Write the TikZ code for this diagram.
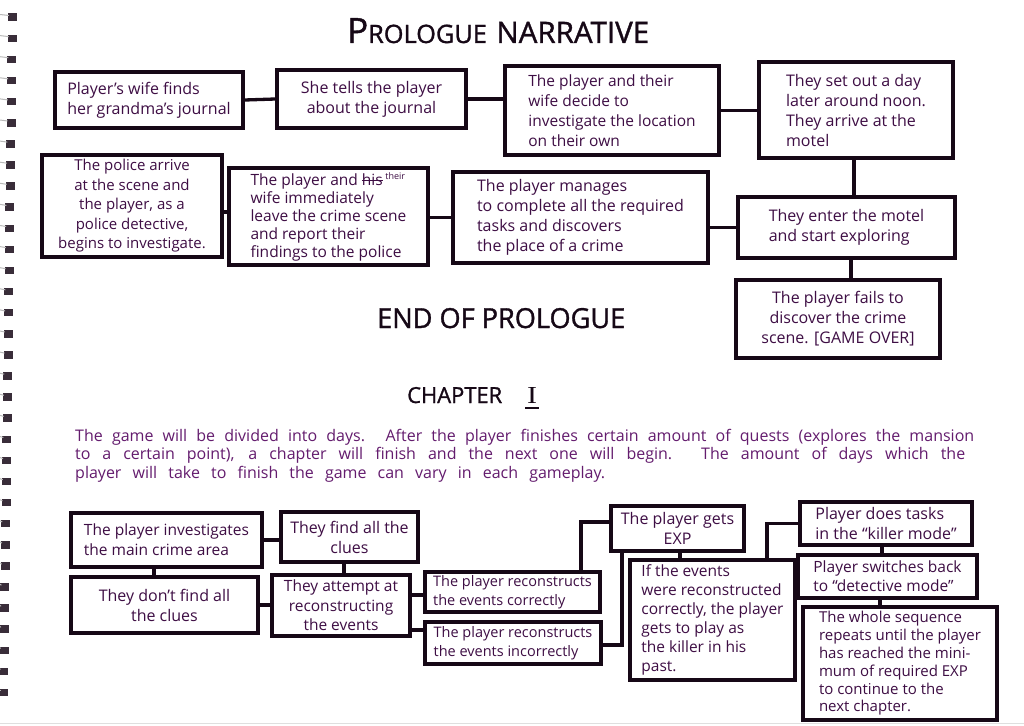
\documentclass[tikz,border=0pt]{standalone}
\usepackage{fontspec}
\setmainfont{Open Sans}
\newfontfamily\serifI{Liberation Serif}
\newfontfamily\headfont[FakeBold=1.2]{Open Sans}
\definecolor{inkblack}{RGB}{22,8,22}
\definecolor{boxpurple}{RGB}{62,14,68}
\definecolor{parapurple}{RGB}{100,28,110}
\newcommand\boxfont{\fontsize{16}{20}\selectfont}
\newcommand\smallboxfont{\fontsize{14.5}{19}\selectfont}
\newcommand\strk[1]{\setbox0\hbox{#1}\rlap{\raisebox{0.3em}{\rule{\wd0}{0.9pt}}}\box0}
\newcommand\mkbox[7][]{\node[box,#1, minimum width={#5-#3}, minimum height={#6-#4}] (#2) at ({(#3+#5)/2},{(#4+#6)/2}) {#7};}
\begin{document}
\begin{tikzpicture}[x=1pt,y=-1pt,
  box/.style={draw=inkblack, line width=3.3pt, inner sep=0pt, text=boxpurple, align=left, font=\boxfont},
  link/.style={draw=inkblack, line width=3.3pt},
  heading/.style={text=inkblack, inner sep=0pt, anchor=base west, font=\headfont},
  paraline/.style={text=parapurple, inner sep=0pt, anchor=base west, font=\fontsize{16}{18}\selectfont},
  spiral/.style={fill=inkblack!85},
  coil/.style={draw=gray!55, line width=1pt}
]
\fill[white] (0,0) rectangle (1024,725);
\useasboundingbox (0,0) rectangle (1024,725);

% spiral binding
\foreach \i in {0,...,32}{
  \pgfmathsetmacro\yy{17+21.1*\i}
  \pgfmathsetmacro\xr{17-9*\i/32}
  \fill[spiral] ({\xr-9},{\yy-3.5}) rectangle (\xr,{\yy+4});
  \draw[coil] (0,{\yy-2.5}) -- ({\xr-8},{\yy-1.5});
}
\draw[gray!25, line width=1pt] (0,723) -- (1024,723);

% headings
\node[heading] (t1) at (347,43) {\resizebox{302pt}{!}{{\fontsize{33}{33}\selectfont P}{\fontsize{24}{24}\selectfont ROLOGUE}\hspace{0.9em}{\fontsize{28}{28}\selectfont NARRATIVE}}};
\node[heading] (t2) at (377,328) {\resizebox{248pt}{20pt}{END OF PROLOGUE}};
\node[heading] (t3) at (407,403) {\resizebox{95pt}{16pt}{CHAPTER}};
\node[heading, font=\serifI] (t4) at (527,403) {\resizebox{10pt}{16pt}{I}};
\draw[inkblack, line width=2pt] (t4.base west) ++(-2,4.5) -- ++(14,0);

% paragraph
\node[paraline] (p1) at (75,441) {\makebox[899pt][s]{The game will be divided into days. After the player finishes certain amount of quests (explores the mansion}};
\node[paraline] (p2) at (75,459) {\makebox[890pt][s]{to a certain point), a chapter will finish and the next one will begin. The amount of days which the}};
\node[paraline] (p3) at (75,478) {\makebox[530pt][s]{player will take to finish the game can vary in each gameplay.}};

% prologue boxes
\mkbox{A}{55}{72}{243}{128}{Player's wife finds\\her grandma's journal}
\mkbox[align=center]{B}{277}{70}{466}{128}{She tells the player\\about the journal}
\mkbox[font=\fontsize{15.5}{20}\selectfont]{C}{505}{66}{719}{155}{The player and their\\wife decide to\\investigate the location\\on their own}
\mkbox{D}{759}{62}{953}{158}{They set out a day\\later around noon.\\They arrive at the\\motel}
\mkbox{E}{738}{197}{955}{258}{They enter the motel\\and start exploring}
\mkbox{F}{453}{172}{708}{263}{The player manages\\to complete all the required\\tasks and discovers\\the place of a crime}
\mkbox[font=\fontsize{15.5}{18}\selectfont]{G}{229}{168}{428}{265}{The player and \strk{his}\,\raisebox{6pt}{\fontsize{9}{9}\selectfont their}\\wife immediately\\leave the crime scene\\and report their\\findings to the police}
\mkbox[align=center,font=\fontsize{15}{19.5}\selectfont]{H}{42}{155}{222}{257}{The police arrive\\at the scene and\\the player, as a\\police detective,\\begins to investigate.}
\mkbox[align=center]{I}{736}{280}{940}{358}{The player fails to\\discover the crime\\scene. [GAME OVER]}

\draw[link] (A.east) -- (B.west);
\draw[link] (B.east) -- (B.east -| C.west);
\draw[link] (C.east) -- (C.east -| D.west);
\draw[link] (854,0 |- D.south) -- (854,0 |- E.north);
\draw[link] (E.west) -- (F.east |- E.west);
\draw[link] (F.west) -- (F.west -| G.east);
\draw[link] (0,212 -| G.west) -- (0,212 -| H.east);
\draw[link] (851,0 |- E.south) -- (851,0 |- I.north);

% chapter I boxes
\mkbox[font=\fontsize{15.5}{20}\selectfont]{J}{71}{513}{262}{567}{The player investigates\\the main crime area}
\mkbox[align=center]{K}{281}{512}{418}{562}{They find all the\\clues}
\mkbox[align=center]{L}{71}{577}{258}{633}{They don't find all\\the clues}
\mkbox[align=center,font=\fontsize{15.5}{19.5}\selectfont]{M}{272}{575}{410}{636}{They attempt at\\reconstructing\\the events}
\mkbox[font=\smallboxfont]{N}{425}{572}{600}{612}{The player reconstructs\\the events correctly}
\mkbox[font=\smallboxfont]{O}{425}{622}{601}{664}{The player reconstructs\\the events incorrectly}
\mkbox[align=center]{P}{611}{506}{744}{551}{The player gets\\EXP}
\mkbox[font=\fontsize{15.5}{19}\selectfont]{Q}{630}{560}{795}{680}{If the events\\were reconstructed\\correctly, the player\\gets to play as\\the killer in his\\past.}
\mkbox{R}{800}{502}{972}{545}{Player does tasks\\in the “killer mode”}
\mkbox[font=\fontsize{15.5}{19}\selectfont]{S}{798}{555}{977}{598}{Player switches back\\to “detective mode”}
\mkbox[font=\fontsize{15}{17.8}\selectfont]{T}{803}{607}{997}{720}{The whole sequence\\repeats until the player\\has reached the mini-\\mum of required EXP\\to continue to the\\next chapter.}

\draw[link] (J.east) -- (J.east -| K.west);
\draw[link] (154,0 |- J.south) -- (154,0 |- L.north);
\draw[link] (344,0 |- K.south) -- (344,0 |- M.north);
\draw[link] (L.east) -- (L.east -| M.west);
\draw[link] (0,595 -| M.east) -- (0,595 -| N.west);
\draw[link] (0,630 -| M.east) -- (0,630 -| O.west);
\draw[link] (581,0 |- N.north) -- (581,522) -- (0,522 -| P.west);
\draw[link] (0,645 -| O.east) -| (622,0 |- P.south);
\draw[link] (680,0 |- P.south) -- (680,0 |- Q.north);
\draw[link] (767,0 |- Q.north) |- (R.west);
\draw[link] (882,0 |- R.south) -- (882,0 |- S.north);
\draw[link] (880,0 |- S.south) -- (880,0 |- T.north);
\end{tikzpicture}
\end{document}
